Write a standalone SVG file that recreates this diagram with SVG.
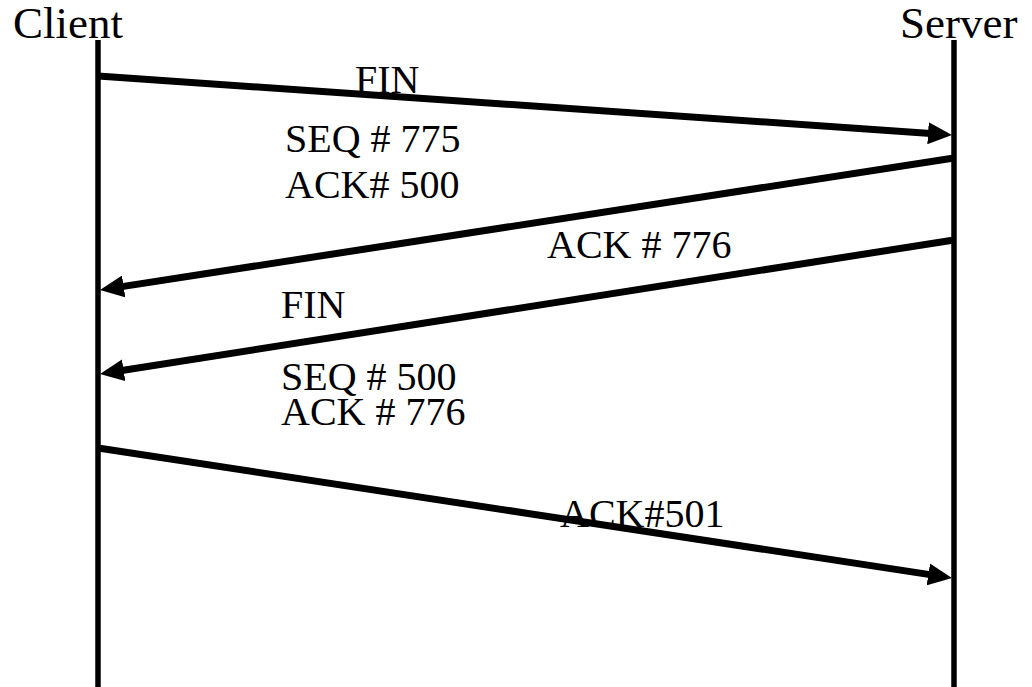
<svg xmlns="http://www.w3.org/2000/svg" width="1032" height="687" viewBox="0 0 1032 687">
  <style>
    .life { stroke: #000; stroke-width: 5.5; }
    .msg { stroke: #000; stroke-width: 7; fill: none; marker-end: url(#head); }
    .title { font-family: "Liberation Serif", "Times New Roman", serif; font-size: 45px; fill: #000; }
    .lbl { font-family: "Liberation Serif", "Times New Roman", serif; font-size: 40px; fill: #000; }
  </style>
  <defs>
    <marker id="head" markerUnits="userSpaceOnUse" viewBox="0 0 24 22" markerWidth="24" markerHeight="22" refX="10" refY="11" orient="auto">
      <path d="M0,0 L24,11 L0,22 z" fill="#000"/>
    </marker>
  </defs>
  <rect width="1032" height="687" fill="#fff"/>

  <g id="client">
    <text class="title" x="13" y="38">Client</text>
    <line class="life" x1="98" y1="40" x2="98" y2="687"/>
  </g>
  <g id="server">
    <text class="title" x="900" y="38">Server</text>
    <line class="life" x1="954" y1="40" x2="954" y2="687"/>
  </g>

  <g id="connectors">
    <line class="msg" x1="98" y1="76" x2="938" y2="134"/>
    <line class="msg" x1="954" y1="158" x2="113.8" y2="287.9"/>
    <line class="msg" x1="954" y1="240" x2="113.8" y2="371.8"/>
    <line class="msg" x1="98" y1="448" x2="938.2" y2="575.9"/>
  </g>

  <g id="labels">
    <text class="lbl" x="355" y="93">FIN</text>
    <text class="lbl" x="285" y="152">SEQ # 775</text>
    <text class="lbl" x="285" y="198">ACK# 500</text>
    <text class="lbl" x="547" y="258">ACK # 776</text>
    <text class="lbl" x="281" y="318">FIN</text>
    <text class="lbl" x="281" y="390">SEQ # 500</text>
    <text class="lbl" x="281" y="425">ACK # 776</text>
    <text class="lbl" x="560" y="527">ACK#501</text>
  </g>
</svg>
